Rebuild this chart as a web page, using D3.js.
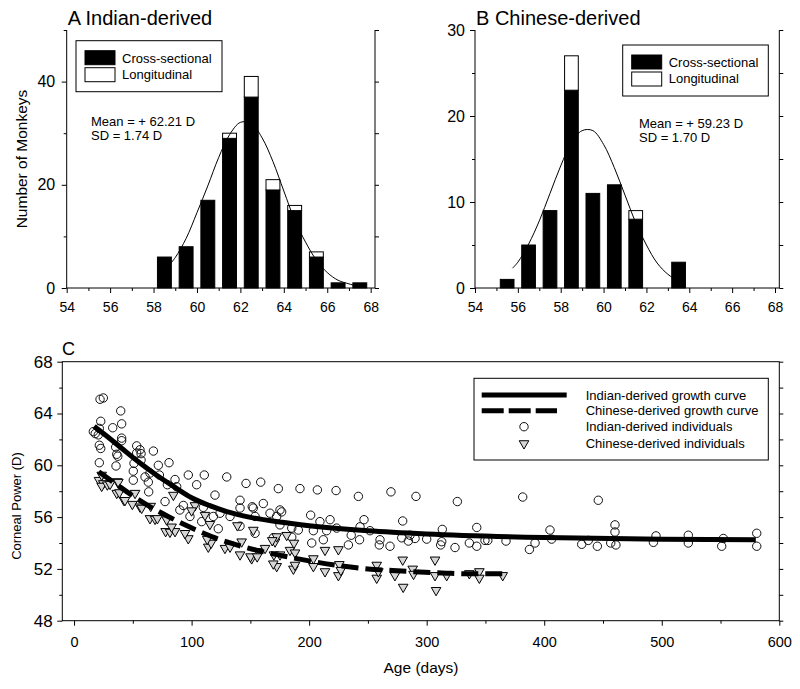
<!DOCTYPE html>
<html><head><meta charset="utf-8">
<script src="https://cdn.jsdelivr.net/npm/d3@7"></script>
<style>
body{margin:0;background:#fff}
svg{display:block}
text{font-family:"Liberation Sans",Arial,Helvetica,sans-serif;fill:#000}
</style>
</head><body>
<svg id="chart" width="800" height="689"></svg>
<script>
// ---------- Panel A: Indian-derived histogram ----------
const binsA = [58.5,59.5,60.5,61.5,62.5,63.5,64.5,65.5,66.5,67.5];
const crossA = [6,8,17,29,37,19,15,6,1,1];
const longA  = [0,0,0,1,4,2,1,1,0,0];
const fitAx = [58.75,59,59.5,60,60.5,61,61.5,62,62.5,63,63.5,64,64.5,65,65.5,66,66.5,67,67.25];
const fitAy = [4.6,5.9,9.6,14.6,19.8,25.3,29.7,32.1,31.9,29.1,24.5,18.8,13.2,8.9,5.4,3.0,1.5,0.8,0.5];

// ---------- Panel B: Chinese-derived histogram ----------
const binsB = [55.5,56.5,57.5,58.5,59.5,60.5,61.5,63.5];
const crossB = [1,5,9,23,11,12,8,3];
const longB  = [0,0,0,4,0,0,1,0];
const fitBx = [55.75,56,56.5,57,57.5,58,58.5,59,59.5,60,60.5,61,61.5,62,62.5,63,63.5,63.8];
const fitBy = [2.3,3.0,5.1,7.8,11.0,14.2,16.9,18.3,18.3,16.7,14.0,10.8,7.6,5.0,2.9,1.6,0.8,0.5];

const histXTicks = [54,56,58,60,62,64,66,68];
const histXMinor = [55,57,59,61,63,65,67];
const histAYTicks = [0,20,40];
const histAYMinor = [10,30,50];
const histBYTicks = [0,10,20,30];
const histBYMinor = [5,15,25];

// ---------- Panel C: growth ----------
const indianCurveX = [17,25,40,55,70,85,100,115,130,150,175,200,250,300,400,500,580];
const indianCurveY = [63.0,62.45,61.35,60.25,59.25,58.35,57.5,56.9,56.42,55.98,55.62,55.34,54.95,54.7,54.42,54.29,54.25];
const chineseCurveX = [21,35,49,62,80,98,117,135,155,178,200,228,250,271,294,317,340,366];
const chineseCurveY = [59.5,58.6,57.7,56.95,56.05,55.25,54.5,53.95,53.45,53.0,52.62,52.22,52.0,51.88,51.76,51.67,51.62,51.62];

const indianPts = [
[16.4,62.6],[18,62.45],[20.6,62.35],[22.1,65.1],[24.9,65.2],[22.7,63.4],[21.5,62.85],[21.5,61.55],[22.7,61.3],[21.5,60.2],
[32.9,62.9],[39.7,64.2],[40.5,63.2],[40.5,62.1],[40.5,61.9],[35.4,61.4],[36.3,60.85],[37.2,60.7],[35.7,59.95],[53.3,61.5],
[56.1,61.2],[57,60.9],[53.3,60.95],[67.5,61.1],[51,60.15],[50.4,59.55],[50.4,58.85],[57,60.4],[60.4,59.1],[63.2,58.7],
[64.6,59.4],[71.7,60.0],[72.6,59.25],[80.8,60.2],[79.4,58.5],[63.5,57.95],[77.4,57.2],[87.3,58.35],[85.9,58.9],[90,56.55],[93,56.9],
[97.2,59.25],[110.8,59.25],[104.3,58.5],[129.9,59.1],[146.3,58.6],[158.8,58.7],[173.8,58.2],[119.9,57.7],[141.2,57.3],[161,57.05],
[110,56.75],[124.2,56.3],[132.7,56.05],[141.2,56.7],[152.5,56.7],[154,56.05],[166.7,56.3],[175.2,56.55],[172.4,56.05],[98.6,56.05],
[108.6,55.65],[118.5,56.05],[122.7,55.1],[154,54.75],[141.2,55.3],[169.5,54.4],[175.2,55.4],[176.6,56.4],[151.6,56.8],
[192.2,58.2],[207,58.1],[222.9,58.05],[241.9,57.6],[269.6,57.95],[201.3,56.15],[209.2,55.65],[217.8,55.8],[246.7,55.8],[279.6,55.7],
[185.2,55.15],[190.8,55.0],[203.6,54.95],[214.9,54.95],[223.4,55.15],[243.3,55.25],[251.8,54.95],[185.2,54.45],[212.1,54.25],[235.8,54.6],
[242.9,54.25],[260.3,54.25],[202.2,54.0],[233.4,53.85],[259.7,53.85],[268.8,53.75],[278.8,54.4],
[290.9,57.6],[326.1,57.2],[381.7,57.55],[313.3,55.05],[342.6,55.2],[285.8,54.6],[284.4,54.15],[290.1,54.35],[300,54.3],[312.8,54.1],
[311.9,53.85],[324.1,53.65],[336.3,54.0],[342.6,53.75],[349.6,54.2],[352,54.2],[367.5,54.15],[387.4,53.5],[404.9,55.0],[446,57.3],
[460.2,55.4],[460.2,54.85],[406.3,54.3],[392.2,54.0],[431.9,53.9],[437.5,54.2],[445.2,53.75],[456.6,54.0],[461,53.85],
[495.1,54.55],[492.9,54.05],[522.6,54.6],[522.6,54.0],[552.4,54.35],[551,53.75],[580.8,54.75],[580.8,53.75]
];
const chinesePts = [
[21.2,58.85],[23.5,59.25],[24.9,58.6],[23.5,58.4],[28.3,58.5],[30.6,58.55],[36.8,58.75],[37.7,58.7],[36.3,57.85],[38.6,57.9],
[42.5,57.3],[43.3,57.3],[49.6,57.0],[51.9,57.85],[56.1,56.8],[57.5,56.7],[65.2,56.85],[64.6,55.9],[68.9,55.85],[70.9,55.9],
[78.8,55.8],[77.9,54.9],[81.6,54.85],[85.9,54.9],[84.5,57.7],[83,55.25],
[102.9,56.9],[100,56.5],[111.4,56.15],[97.2,54.35],[94.4,54.75],[114.2,53.7],[116.6,54.0],[113.3,54.3],[115.6,55.45],[128.4,53.6],
[132.7,53.7],[139,55.35],[141.2,53.1],[142.6,54.1],[152.5,55.0],[151.1,52.8],[156.8,53.35],[162.5,53.6],[150.1,52.95],[155.8,52.95],
[171,54.1],[172.4,54.5],[172.4,52.2],[169.5,52.4],[170,53.1],[168.6,54.2],
[183.7,53.45],[180.9,54.6],[187.1,54.0],[175.2,53.1],[188,53.25],[213.5,53.45],[224.9,53.5],[186.6,52.0],[188,52.3],[203.6,52.8],
[203.6,52.2],[213.5,51.8],[225.7,52.35],[224.9,51.5],[227,51.9],[257.5,52.3],[257.5,51.3],[258.9,51.8],[273,51.5],[279.6,52.7],
[280,50.6],[307.1,52.7],[288.1,52.0],[288.8,51.6],[307.1,51.5],[317,51.5],[336.3,51.65],[344.8,51.8],[344.8,51.3],[364.7,51.5],[308,50.35]
];
const growthXTicks = [0,100,200,300,400,500,600];
const growthXMinor = [50,150,250,350,450,550];
const growthYTicks = [48,52,56,60,64,68];
const growthYMinor = [50,54,58,62,66];

const svg = d3.select("#chart");

function histPanel(o){
  const g = svg.append("g");
  const x = d3.scaleLinear().domain([54,68.2]).range([o.left,o.right]);
  const y = d3.scaleLinear().domain([0,o.ymax]).range([o.bottom,o.top]);
  const bw = 0.64;
  o.bins.forEach((c,i)=>{
    const x0 = x(c-bw/2), x1 = x(c+bw/2);
    g.append("rect").attr("x",x0).attr("y",y(o.cross[i])).attr("width",x1-x0)
      .attr("height",y(0)-y(o.cross[i])).attr("fill","#000").attr("stroke","#000").attr("stroke-width",1);
    if(o.long[i]>0){
      const t = o.cross[i]+o.long[i];
      g.append("rect").attr("x",x0).attr("y",y(t)).attr("width",x1-x0)
        .attr("height",y(o.cross[i])-y(t)).attr("fill","#fff").attr("stroke","#000").attr("stroke-width",1);
    }
  });
  const line = d3.line().x(d=>x(d[0])).y(d=>y(d[1])).curve(d3.curveCatmullRom);
  g.append("path").datum(o.fx.map((v,i)=>[v,o.fy[i]])).attr("d",line)
    .attr("fill","none").attr("stroke","#000").attr("stroke-width",1);
  const bx = g.append("g").attr("transform",`translate(0,${o.bottom})`)
    .call(d3.axisBottom(x).tickValues(histXTicks).tickSize(5).tickPadding(9).tickFormat(d3.format("d")));
  g.append("g").attr("transform",`translate(0,${o.bottom})`)
    .call(d3.axisBottom(x).tickValues(histXMinor).tickSize(3).tickFormat(""));
  g.append("g").attr("transform",`translate(${o.left},0)`)
    .call(d3.axisLeft(y).tickValues(o.yt).tickSize(5).tickPadding(o.lpad).tickFormat(d3.format("d")))
    .selectAll("text").style("font-size","16px");
  g.append("g").attr("transform",`translate(${o.left},0)`)
    .call(d3.axisLeft(y).tickValues(o.ym).tickSize(3).tickFormat(""));
  g.append("g").attr("transform",`translate(${o.right},0)`)
    .call(d3.axisRight(y).tickValues(o.yt.concat(o.ym)).tickSize(4).tickFormat(""));
  g.selectAll(".domain").remove();
  g.selectAll(".tick line").attr("stroke","#000");
  bx.selectAll("text").style("font-size","14px");
  g.append("path").attr("d",`M${o.left},${o.top}V${o.bottom}H${o.right}V${o.top}`)
    .attr("fill","none").attr("stroke","#000").attr("stroke-width",1);
  g.append("text").attr("x",o.left+1).attr("y",25).style("font-size","20px").text(o.title);
  const L = o.leg;
  g.append("rect").attr("x",L.x).attr("y",L.y).attr("width",L.w).attr("height",L.h)
    .attr("fill","#fff").attr("stroke","#000").attr("stroke-width",1);
  g.append("rect").attr("x",L.x+9).attr("y",L.y+10).attr("width",30).attr("height",14).attr("fill","#000").attr("stroke","#000");
  g.append("rect").attr("x",L.x+9).attr("y",L.y+27).attr("width",30).attr("height",14).attr("fill","#fff").attr("stroke","#000");
  g.append("text").attr("x",L.x+46).attr("y",L.y+22).style("font-size","13px").text("Cross-sectional");
  g.append("text").attr("x",L.x+46).attr("y",L.y+38).style("font-size","13px").text("Longitudinal");
  g.append("text").attr("x",o.sx).attr("y",o.sy).style("font-size","13px").text(o.mean);
  g.append("text").attr("x",o.sx).attr("y",o.sy+14).style("font-size","13px").text(o.sd);
  return g;
}

histPanel({left:66.7,right:375,top:30,bottom:288,ymax:50,bins:binsA,cross:crossA,long:longA,
  fx:fitAx,fy:fitAy,yt:histAYTicks,ym:histAYMinor,lpad:6.5,title:"A Indian-derived",
  leg:{x:76,y:40.7,w:146,h:51},sx:91,sy:126,mean:"Mean = + 62.21 D",sd:"SD = 1.74 D"});
histPanel({left:475,right:779.3,top:30,bottom:288,ymax:30,bins:binsB,cross:crossB,long:longB,
  fx:fitBx,fy:fitBy,yt:histBYTicks,ym:histBYMinor,lpad:5,title:"B Chinese-derived",
  leg:{x:622.7,y:45,w:145.6,h:51},sx:639,sy:128,mean:"Mean = + 59.23 D",sd:"SD = 1.70 D"});

svg.append("text").attr("transform","translate(26.5,159) rotate(-90)").attr("text-anchor","middle")
  .style("font-size","15.5px").text("Number of Monkeys");

// ---------- Panel C ----------
(function(){
  const left=62.3,right=779.3,top=361.7,bottom=620.7;
  const g = svg.append("g");
  const x = d3.scaleLinear().domain([-10,600]).range([left,right]);
  const y = d3.scaleLinear().domain([48,68]).range([bottom,top]);
  g.selectAll("circle.ind").data(indianPts).join("circle").attr("class","ind")
    .attr("cx",d=>x(d[0])).attr("cy",d=>y(d[1])).attr("r",4.2)
    .attr("fill","none").attr("stroke","#111").attr("stroke-width",1);
  const tri = d3.symbol().type(d3.symbolTriangle).size(40);
  g.selectAll("path.chn").data(chinesePts).join("path").attr("class","chn")
    .attr("d",tri).attr("transform",d=>`translate(${x(d[0])},${y(d[1])}) rotate(180)`)
    .attr("fill","#d6d6d6").attr("stroke","#000").attr("stroke-width",1);
  const line = d3.line().x(d=>x(d[0])).y(d=>y(d[1])).curve(d3.curveMonotoneX);
  g.append("path").datum(indianCurveX.map((v,i)=>[v,indianCurveY[i]])).attr("d",line)
    .attr("fill","none").attr("stroke","#000").attr("stroke-width",5);
  g.append("path").datum(chineseCurveX.map((v,i)=>[v,chineseCurveY[i]])).attr("d",line)
    .attr("fill","none").attr("stroke","#000").attr("stroke-width",5).attr("stroke-dasharray","17,7");
  const bx = g.append("g").attr("transform",`translate(0,${bottom})`)
    .call(d3.axisBottom(x).tickValues(growthXTicks).tickSize(5).tickPadding(11).tickFormat(d3.format("d")));
  bx.selectAll("text").style("font-size","14.5px");
  g.append("g").attr("transform",`translate(0,${bottom})`)
    .call(d3.axisBottom(x).tickValues(growthXMinor).tickSize(3).tickFormat(""));
  const ly = g.append("g").attr("transform",`translate(${left},0)`)
    .call(d3.axisLeft(y).tickValues(growthYTicks).tickSize(5).tickPadding(4.6).tickFormat(d3.format("d")));
  ly.selectAll("text").style("font-size","17px");
  g.append("g").attr("transform",`translate(${left},0)`)
    .call(d3.axisLeft(y).tickValues(growthYMinor).tickSize(3).tickFormat(""));
  g.append("g").attr("transform",`translate(${right},0)`)
    .call(d3.axisRight(y).tickValues(growthYTicks.concat(growthYMinor)).tickSize(4).tickFormat(""));
  g.selectAll(".domain").remove();
  g.selectAll(".tick line").attr("stroke","#000");
  g.append("rect").attr("x",left).attr("y",top).attr("width",right-left).attr("height",bottom-top)
    .attr("fill","none").attr("stroke","#000").attr("stroke-width",1);
  g.append("rect").attr("x",474).attr("y",378.3).attr("width",294.3).attr("height",81.7)
    .attr("fill","#fff").attr("stroke","#000").attr("stroke-width",1);
  g.append("line").attr("x1",481.7).attr("x2",566.7).attr("y1",395).attr("y2",395)
    .attr("stroke","#000").attr("stroke-width",5);
  g.append("line").attr("x1",481.7).attr("x2",557).attr("y1",410.7).attr("y2",410.7)
    .attr("stroke","#000").attr("stroke-width",5).attr("stroke-dasharray","22,5");
  g.append("circle").attr("cx",524).attr("cy",426.7).attr("r",4.2).attr("fill","none").attr("stroke","#111");
  g.append("path").attr("d",tri).attr("transform","translate(524,443.5) rotate(180)")
    .attr("fill","#d6d6d6").attr("stroke","#000");
  const lt = ["Indian-derived growth curve","Chinese-derived growth curve","Indian-derived individuals","Chinese-derived individuals"];
  const lb = [399.5,415.2,431.2,448];
  lt.forEach((t,i)=>g.append("text").attr("x",585.7).attr("y",lb[i]).style("font-size","13px").text(t));
  g.append("text").attr("x",62).attr("y",355).style("font-size","18px").text("C");
  g.append("text").attr("x",421).attr("y",673).attr("text-anchor","middle").style("font-size","15.5px").text("Age (days)");
  g.append("text").attr("transform","translate(21,506) rotate(-90)").attr("text-anchor","middle")
    .style("font-size","13px").text("Corneal Power (D)");
})();
</script>
</body></html>
